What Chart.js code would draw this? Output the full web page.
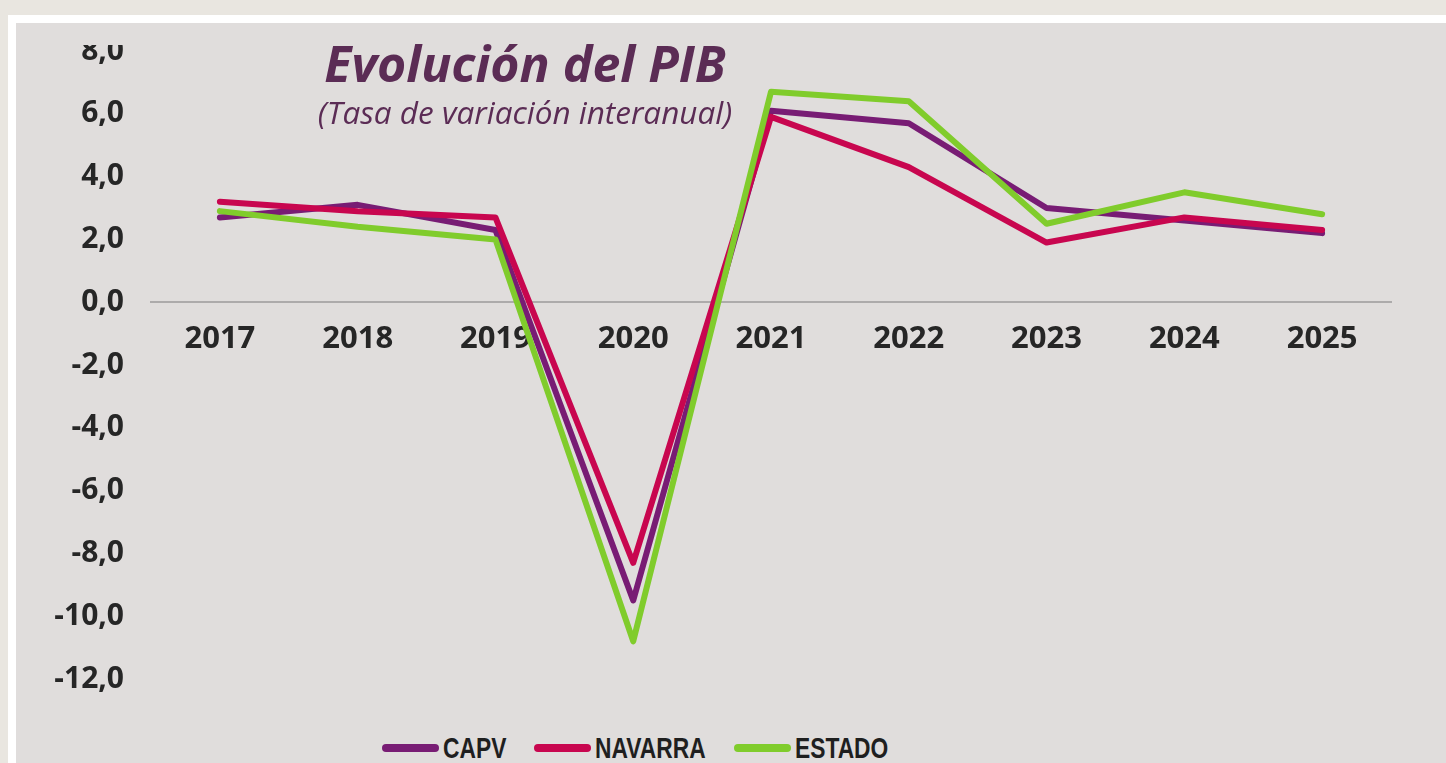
<!DOCTYPE html>
<html lang="es">
<head>
<meta charset="utf-8">
<title>Evolución del PIB</title>
<script src="https://cdn.jsdelivr.net/npm/chart.js@4.4.1/dist/chart.umd.min.js"></script>
<style>
  html, body { margin: 0; padding: 0; }
  body {
    width: 1446px; height: 763px; overflow: hidden; position: relative;
    background: #e9e6e0; font-family: "Open Sans", sans-serif;
  }
  .frame { position: absolute; left: 8px; top: 15px; width: 1438px; height: 748px; background: #fff; }
  .panel { position: absolute; left: 16px; top: 23px; width: 1430px; height: 740px; background: #e0dddc; }
  .clip { position: absolute; left: 16px; top: 45px; width: 1430px; height: 718px; overflow: hidden; }
  .chart-box { position: absolute; left: 0; top: -30px; width: 1430px; height: 700px; }
  .title {
    position: absolute; left: 225px; width: 600px; margin: 0;
    text-align: center; color: #5b2c55; font-style: italic; white-space: nowrap; line-height: 1;
  }
  .title.main { top: 38px; font-size: 50px; font-weight: 700; }
  .title.sub { top: 96px; font-size: 31.5px; font-weight: 400; }
  .legend {
    position: absolute; left: 382px; top: 733px; height: 30px;
    display: flex; align-items: center;
    font-family: "Liberation Sans", Arial, sans-serif;
    font-weight: 700; font-size: 30px; line-height: 1; color: #1f1f1f;
  }
  .legend .item { display: flex; align-items: center; margin-right: 28px; }
  .legend .bar { width: 57px; height: 8px; border-radius: 4px; margin-right: 4px; }
  .legend .txt { display: inline-block; transform: scaleX(0.76); transform-origin: left center; }
</style>
</head>
<body>
  <div class="frame"></div>
  <div class="panel"></div>
  <div class="clip">
    <div class="chart-box"><canvas id="pibChart"></canvas></div>
  </div>
  <h1 class="title main">Evolución del PIB</h1>
  <div class="title sub">(Tasa de variación interanual)</div>
  <div class="legend" id="pibLegend"></div>

<script>
  const years = ["2017", "2018", "2019", "2020", "2021", "2022", "2023", "2024", "2025"];
  const capv = [2.7, 3.1, 2.3, -9.5, 6.1, 5.7, 3.0, 2.6, 2.2];
  const navarra = [3.2, 2.9, 2.7, -8.3, 5.9, 4.3, 1.9, 2.7, 2.3];
  const estado = [2.9, 2.4, 2.0, -10.8, 6.7, 6.4, 2.5, 3.5, 2.8];
  const seriesNames = ["CAPV", "NAVARRA", "ESTADO"];
  const seriesColors = ["#781c74", "#c8064f", "#80cc2c"];
  const yMin = -12;
  const yMax = 8;
  const yStep = 2;

  const seriesData = [capv, navarra, estado];

  const datasets = seriesNames.map((name, i) => ({
    label: name,
    data: seriesData[i],
    borderColor: seriesColors[i],
    backgroundColor: seriesColors[i],
    borderWidth: 6,
    borderCapStyle: "round",
    borderJoinStyle: "round",
    pointRadius: 0,
    tension: 0,
    fill: false,
    order: seriesNames.length - i
  }));

  const tickColor = "#262626";

  new Chart(document.getElementById("pibChart"), {
    type: "line",
    data: { labels: years, datasets: datasets },
    options: {
      responsive: true,
      maintainAspectRatio: false,
      animation: false,
      layout: { padding: { left: 0, right: 55, top: 36, bottom: 36 } },
      plugins: {
        legend: { display: false },
        tooltip: { enabled: false }
      },
      scales: {
        x: {
          position: { y: 0 },
          offset: true,
          grid: { display: false, drawTicks: false },
          border: { display: true, color: "#adabab", width: 2 },
          ticks: {
            color: tickColor,
            padding: 18,
            maxRotation: 0,
            font: { family: "'Open Sans', sans-serif", size: 31, weight: "bold" }
          }
        },
        y: {
          min: yMin,
          max: yMax,
          grid: { display: false, drawTicks: false },
          border: { display: false },
          afterFit(scale) {
            // ancho fijo y sin margen extra arriba/abajo: lo marca layout.padding
            scale.width = 135;
            scale.paddingTop = 0;
            scale.paddingBottom = 0;
          },
          ticks: {
            stepSize: yStep,
            color: tickColor,
            padding: 27,
            font: { family: "'Open Sans', sans-serif", size: 30, weight: "bold" },
            callback(value) {
              return Number(value).toFixed(1).replace(".", ",");
            }
          }
        }
      }
    }
  });

  // leyenda en HTML, a partir de las mismas series
  const legendEl = document.getElementById("pibLegend");
  const squeeze = 0.76;
  seriesNames.forEach((name, i) => {
    const item = document.createElement("div");
    item.className = "item";
    const bar = document.createElement("span");
    bar.className = "bar";
    bar.style.background = seriesColors[i];
    const text = document.createElement("span");
    text.className = "txt";
    text.textContent = name;
    item.appendChild(bar);
    item.appendChild(text);
    legendEl.appendChild(item);
    // el texto va estrechado con scaleX: recortar el hueco sobrante
    const w = text.getBoundingClientRect().width / squeeze;
    text.style.marginRight = (-(1 - squeeze) * w) + "px";
  });
</script>
</body>
</html>
